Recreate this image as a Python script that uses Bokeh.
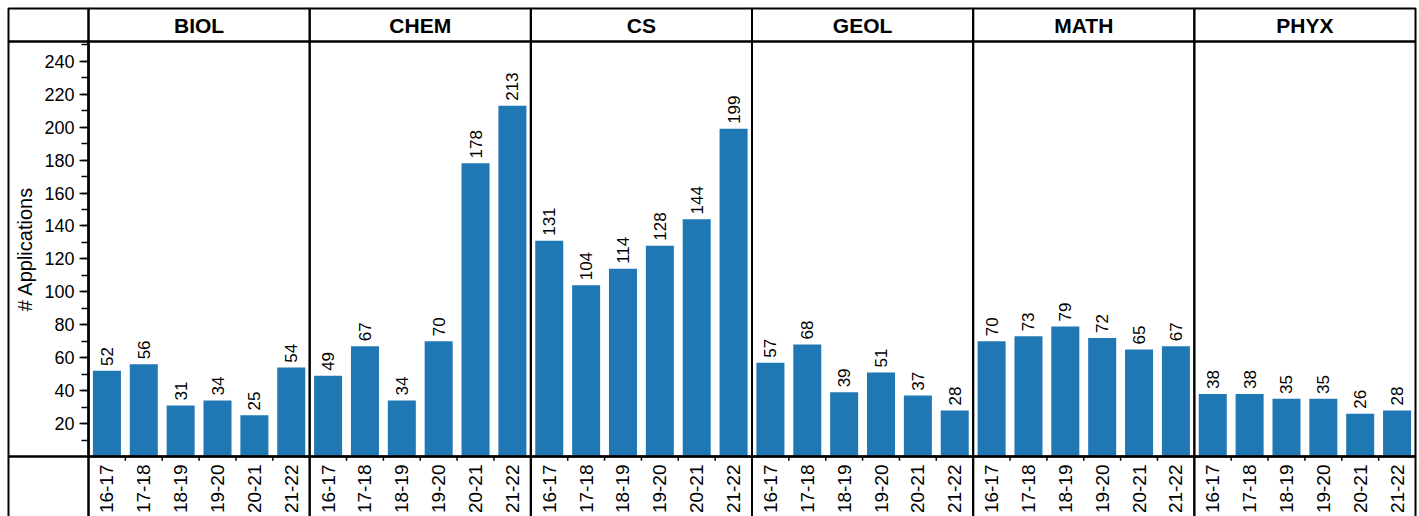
import math
from bokeh.plotting import figure
from bokeh.models import ColumnDataSource, FactorRange, Range1d, FixedTicker
from bokeh.transform import dodge
from bokeh.core.properties import value
from bokeh.embed import file_html
from bokeh.resources import INLINE

# ---- data ----
depts = ["BIOL", "CHEM", "CS", "GEOL", "MATH", "PHYX"]
years = ["16-17", "17-18", "18-19", "19-20", "20-21", "21-22"]
biol = [52, 56, 31, 34, 25, 54]
chem = [49, 67, 34, 70, 178, 213]
cs = [131, 104, 114, 128, 144, 199]
geol = [57, 68, 39, 51, 37, 28]
math_ = [70, 73, 79, 72, 65, 67]
phyx = [38, 38, 35, 35, 26, 28]
y_ticks = list(range(20, 241, 20))
y_minor = list(range(10, 251, 10))

series = [biol, chem, cs, geol, math_, phyx]

# ---- layout / style ----
FONT = "Liberation Sans"
BAR = "#1f77b4"
W, H = 1419, 516
LEFT, RIGHT, TOP, BOTTOM = 88, 4, 41, 58
FRAME_W = W - LEFT - RIGHT
COL_W = 80                 # width (px) of the y-axis column of the table
Y_HEAD = 252               # top of bar area (frame top)
Y_TOP = 272                # top of header row (above the frame)
Y_BOT = -40                # extend grid lines through the tick-label row
LW = 2

factors = [(d, y) for d in depts for y in years]
vals = [v for s in series for v in s]
COL_U = COL_W / (FRAME_W / len(factors))   # y-axis column width in category units

src = ColumnDataSource(dict(
    x=factors,
    v=vals,
    ly=[v + 3 for v in vals],
    label=[str(v) for v in vals],
))

p = figure(
    width=W, height=H,
    x_range=FactorRange(*factors, factor_padding=0, group_padding=0, range_padding=0),
    y_range=Range1d(0, Y_HEAD),
    output_backend="svg", toolbar_location=None,
    min_border_left=LEFT, min_border_right=RIGHT,
    min_border_top=TOP, min_border_bottom=BOTTOM,
)
p.outline_line_color = None
p.xgrid.grid_line_color = None
p.ygrid.grid_line_color = None

# y axis
ya = p.yaxis[0]
ya.ticker = FixedTicker(ticks=y_ticks, minor_ticks=y_minor)
ya.axis_label = "# Applications"
ya.axis_label_text_font = FONT
ya.axis_label_text_font_style = "normal"
ya.axis_label_text_font_size = "20px"
ya.axis_label_text_color = "black"
ya.axis_label_standoff = 5
ya.major_label_text_font = FONT
ya.major_label_text_font_size = "18px"
ya.major_label_text_color = "black"
ya.major_label_standoff = 5
ya.major_tick_out = 9
ya.major_tick_in = 0
ya.minor_tick_out = 7
ya.minor_tick_in = 0
ya.major_tick_line_width = 1.5
ya.minor_tick_line_width = 1.5
ya.major_tick_line_color = "black"
ya.minor_tick_line_color = "black"
ya.axis_line_width = LW
ya.axis_line_color = "black"

# x axis
xa = p.xaxis[0]
xa.major_label_orientation = math.pi / 2
xa.major_label_text_font = FONT
xa.major_label_text_font_size = "19px"
xa.major_label_text_color = "black"
xa.major_label_standoff = 8
xa.major_tick_out = 0
xa.major_tick_in = 0
xa.major_tick_line_color = None
xa.group_text_font_size = "0px"
xa.group_text_color = None
xa.separator_line_color = None
xa.axis_line_width = LW
xa.axis_line_color = "black"

# bars
p.vbar(x="x", top="v", width=0.76, source=src, fill_color=BAR, line_color=None)

# value labels
p.text(x="x", y="ly", text="label", source=src, angle=math.pi / 2,
       text_align="left", text_baseline="middle",
       text_font=value(FONT), text_font_size="17px", text_color="black")

# small ticks between categories
tick_src = ColumnDataSource(dict(x=[(d, y) for d in depts for y in years[1:]]))
p.segment(x0=dodge("x", -0.5, range=p.x_range), y0=0,
          x1=dodge("x", -0.5, range=p.x_range), y1=-2.6,
          source=tick_src, line_color="black", line_width=1.5, level="overlay")

# table grid: one cell per department and row (header, plot, labels)
rows = [(Y_HEAD, Y_TOP), (0, Y_HEAD), (Y_BOT, 0)]
grid_src = ColumnDataSource(dict(
    first=[(d, years[0]) for d in depts for _ in rows],
    last=[(d, years[-1]) for d in depts for _ in rows],
    b=[r[0] for _ in depts for r in rows],
    t=[r[1] for _ in depts for r in rows],
))
p.quad(left=dodge("first", -0.5, range=p.x_range),
       right=dodge("last", 0.5, range=p.x_range),
       bottom="b", top="t", source=grid_src,
       fill_color=None, line_color="black", line_width=LW, level="overlay")

# table grid: y-axis column cells (left of the first category)
col_src = ColumnDataSource(dict(
    x=[factors[0]] * len(rows),
    b=[r[0] for r in rows],
    t=[r[1] for r in rows],
))
p.quad(left=dodge("x", -0.5 - COL_U, range=p.x_range),
       right=dodge("x", -0.5, range=p.x_range),
       bottom="b", top="t", source=col_src,
       fill_color=None, line_color="black", line_width=LW, level="overlay")

# header labels
p.text(x=depts, y=[(Y_HEAD + Y_TOP) / 2] * len(depts), text=depts,
       text_align="center", text_baseline="middle", text_font=value(FONT),
       text_font_style="bold", text_font_size="21px", text_color="black",
       level="overlay")

open("out.html", "w").write(file_html(p, INLINE))
